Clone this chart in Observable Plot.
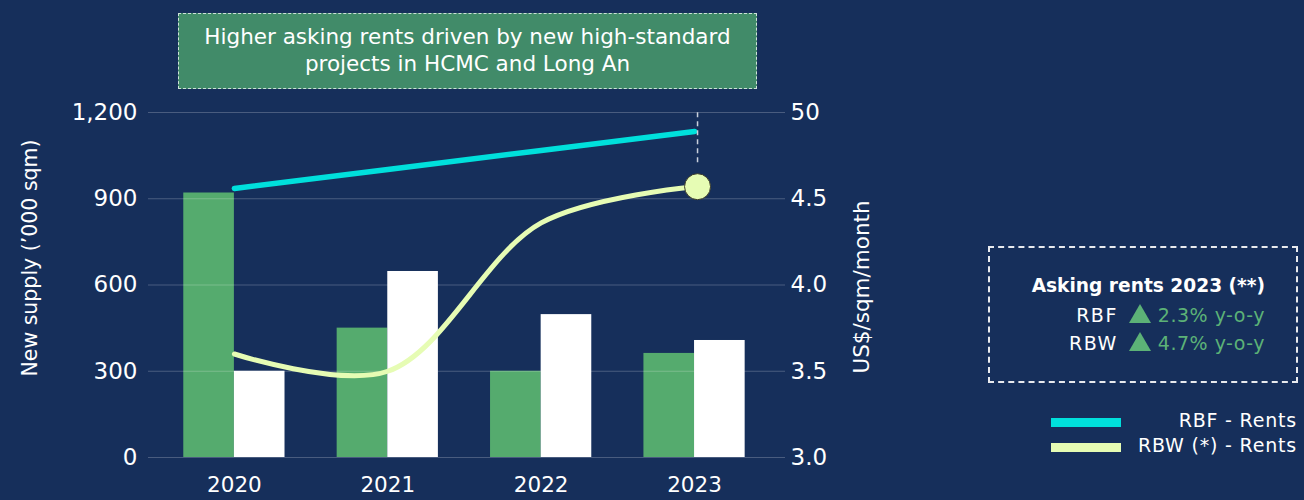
<!DOCTYPE html>
<html>
<head>
<meta charset="utf-8">
<script src="https://cdn.jsdelivr.net/npm/d3@7"></script>
<script src="https://cdn.jsdelivr.net/npm/@observablehq/plot@0.6"></script>
<style>
  html, body { margin: 0; padding: 0; background: #162f5b; }
  body { font-family: "DejaVu Sans", sans-serif; color: #fff; }
  #wrap { position: relative; width: 1304px; height: 500px; overflow: hidden; }
  #chart { position: absolute; left: 0; top: 0; }
  .annot { position: absolute; left: 178px; top: 13px; width: 579px; height: 76px; box-sizing: border-box;
           border: 1.5px dashed rgba(255,255,255,0.75); background: #418b69; color: #fff;
           font-size: 21.5px; line-height: 27px; text-align: center; padding-top: 9px; }
  .kbox { position: absolute; left: 988px; top: 246px; width: 310px; height: 137px; box-sizing: border-box;
          border: 2px dashed rgba(255,255,255,0.9); }
  .krow { position: absolute; right: 31px; font-size: 19px; white-space: nowrap; }
  .krow b { font-weight: 700; font-size: 18.6px; }
  .up { color: #5cb277; letter-spacing: 0.5px; }
  .nm { letter-spacing: 1.5px; }
  .tri { display: inline-block; width: 0; height: 0; border-left: 11px solid transparent; border-right: 11px solid transparent;
         border-bottom: 19px solid #5cb277; margin: 0 7px 0 11px; vertical-align: -1px; }
  .sw { position: absolute; left: 1051px; width: 70px; height: 9px; }
  .lt { position: absolute; right: 7px; font-size: 19px; letter-spacing: 0.8px; white-space: nowrap; }
</style>
</head>
<body>
<div id="wrap">
  <div id="chart"></div>
</div>
<script>
// ---- data ----
const years = [2020, 2021, 2022, 2023];
const rbfSupply = [920, 450, 300, 362];   // '000 sqm (green bars)
const rbwSupply = [300, 647, 497, 407];   // '000 sqm (white bars)
const rbfRent = [4.56, 4.67, 4.78, 4.89]; // US$/sqm/month
const rbwRent = [3.60, 3.50, 4.36, 4.57]; // US$/sqm/month
const supplyTicks = [0, 300, 600, 900, 1200];
const rentTickLabels = ["3.0", "3.5", "4.0", "4.5", "50"];
const rentDomain = [3.0, 5.0];
const supplyDomain = [0, 1200];
const annotationText = ["Higher asking rents driven by new high-standard", "projects in HCMC and Long An"];
const keyTitle = "Asking rents 2023 (**)";
const keyRows = [["RBF", "2.3% y-o-y"], ["RBW", "4.7% y-o-y"]];
const legendItems = [["RBF - Rents", "#00e0dc"], ["RBW (*) - Rents", "#e6fcb4"]];

// ---- build tables ----
const toLeft = r => (r - rentDomain[0]) / (rentDomain[1] - rentDomain[0]) * (supplyDomain[1] - supplyDomain[0]);
const bars = years.flatMap((yr, i) => [
  {year: yr, series: "RBF", value: rbfSupply[i], side: -1},
  {year: yr, series: "RBW", value: rbwSupply[i], side: 1}
]);
const half = 0.33;
const rbfLine = years.map((yr, i) => ({year: yr, v: toLeft(rbfRent[i])}));
const rbwLine = years.map((yr, i) => ({year: yr, v: toLeft(rbwRent[i])}));
const lastRbw = rbwLine[rbwLine.length - 1];

const chart = Plot.plot({
  width: 1304,
  height: 500,
  marginLeft: 148,
  marginRight: 519,
  marginTop: 112,
  marginBottom: 43,
  style: {background: "transparent", color: "#fff", fontFamily: "'DejaVu Sans', sans-serif"},
  x: {type: "linear", domain: [2019.44, 2023.593], axis: null},
  y: {domain: supplyDomain, axis: null},
  marks: [
    Plot.rectY(bars, {
      x1: d => d.side < 0 ? d.year - half : d.year,
      x2: d => d.side < 0 ? d.year : d.year + half,
      y1: 0, y2: "value",
      fill: d => d.series === "RBF" ? "#55ab6e" : "#ffffff"
    }),
    Plot.gridY(supplyTicks, {stroke: "#ffffff", strokeOpacity: 0.22, strokeWidth: 1.2}),
    Plot.axisY({ticks: supplyTicks, anchor: "left", tickSize: 0, tickPadding: 11, fontSize: 23, tickFormat: d3.format(","), label: null}),
    Plot.axisY({ticks: supplyTicks, anchor: "right", tickSize: 0, tickPadding: 5, fontSize: 23,
      tickFormat: d => rentTickLabels[supplyTicks.indexOf(d)], label: null}),
    Plot.axisX({ticks: years, tickSize: 0, tickPadding: 19, fontSize: 21.5, tickFormat: d => String(d), label: null}),
    Plot.text(["New supply (’000 sqm)"], {frameAnchor: "left", textAnchor: "middle", rotate: -90, dx: -118, dy: -27, fontSize: 20.5, fill: "#fff"}),
    Plot.text(["US$/sqm/month"], {frameAnchor: "right", textAnchor: "middle", rotate: -90, dx: 77, dy: 2, fontSize: 21.5, fill: "#fff"}),
    Plot.line(rbfLine, {x: "year", y: "v", stroke: "#00e0dc", strokeWidth: 5.5}),
    Plot.line(rbwLine, {x: "year", y: "v", stroke: "#e6fcb4", strokeWidth: 5, curve: "catmull-rom"}),
    Plot.ruleX([lastRbw], {x: "year", y1: "v", y2: supplyDomain[1], insetTop: -24, dx: 3, stroke: "#c9d0dc", strokeWidth: 1.5, strokeDasharray: "5,4"}),
    Plot.dot([lastRbw], {x: "year", y: "v", r: 13, dx: 3, fill: "#e6fcb4", stroke: "#3a3a2a", strokeWidth: 1})
  ]
});
document.getElementById("chart").appendChild(chart);

// ---- overlays (annotation, key box, legend) ----
const wrap = document.getElementById("wrap");
const annot = document.createElement("div");
annot.className = "annot";
annot.innerHTML = annotationText.join("<br>");
wrap.appendChild(annot);

const kbox = document.createElement("div");
kbox.className = "kbox";
wrap.appendChild(kbox);
const title = document.createElement("div");
title.className = "krow";
title.style.top = "26px";
title.innerHTML = `<b>${keyTitle}</b>`;
kbox.appendChild(title);
keyRows.forEach(([name, txt], i) => {
  const r = document.createElement("div");
  r.className = "krow";
  r.style.top = (56 + i * 28) + "px";
  r.innerHTML = `<span class="nm">${name}</span><span class="tri"></span><span class="up">${txt}</span>`;
  kbox.appendChild(r);
});

legendItems.forEach(([label, color], i) => {
  const sw = document.createElement("div");
  sw.className = "sw";
  sw.style.top = (418 + i * 25) + "px";
  sw.style.background = color;
  wrap.appendChild(sw);
  const t = document.createElement("div");
  t.className = "lt";
  t.style.top = (409 + i * 25) + "px";
  t.textContent = label;
  wrap.appendChild(t);
});
</script>
</body>
</html>
